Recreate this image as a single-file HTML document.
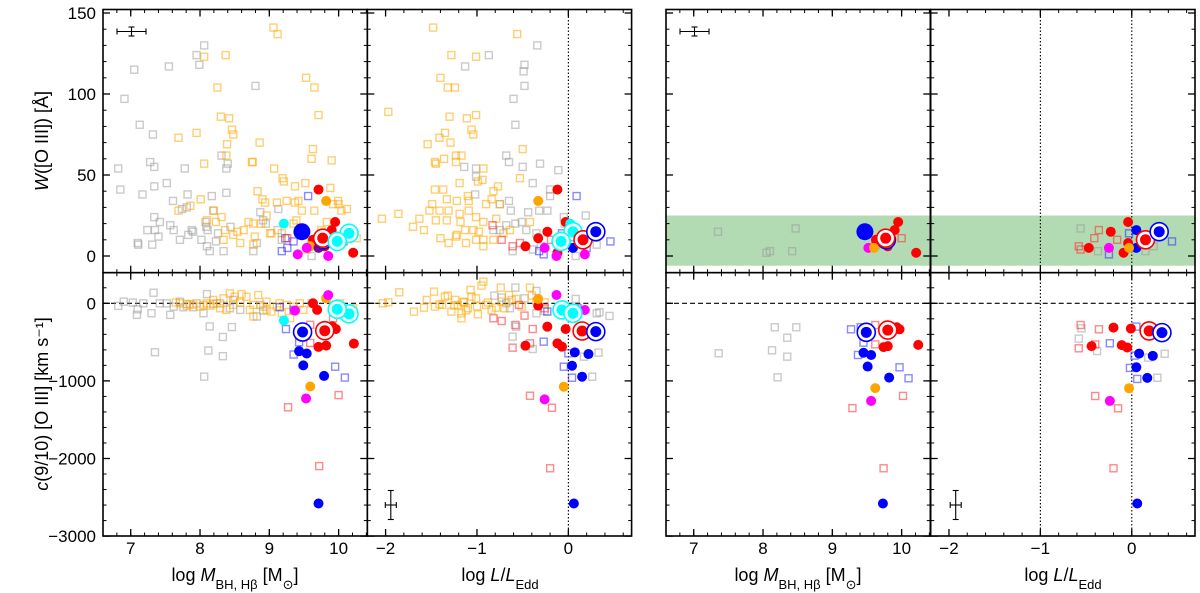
<!DOCTYPE html>
<html><head><meta charset="utf-8"><style>
html,body{margin:0;padding:0;background:#fff;}
svg{display:block;font-family:"Liberation Sans","DejaVu Sans",sans-serif;}
</style></head><body>
<svg id="chart" width="1200" height="593" viewBox="0 0 1200 593" xmlns="http://www.w3.org/2000/svg">
<g id="bands"></g>
<g id="guides"></g>
<g id="marks"></g>
<g id="axes"></g>
<g id="labels">
<text transform="translate(48,141) rotate(-90)" text-anchor="middle" font-size="18"><tspan font-style="italic">W</tspan>([O III]) [Å]</text>
<text transform="translate(48,404) rotate(-90)" text-anchor="middle" font-size="18"><tspan font-style="italic">c</tspan>(9/10) [O III] [km s⁻¹]</text>
<text x="235" y="581" text-anchor="middle" font-size="18">log <tspan font-style="italic">M</tspan><tspan font-size="13" baseline-shift="sub">BH, Hβ</tspan> [M<tspan font-size="13" baseline-shift="sub">⊙</tspan>]</text>
<text x="500" y="581" text-anchor="middle" font-size="18">log <tspan font-style="italic">L</tspan>/<tspan font-style="italic">L</tspan><tspan font-size="13" baseline-shift="sub">Edd</tspan></text>
<text x="798" y="581" text-anchor="middle" font-size="18">log <tspan font-style="italic">M</tspan><tspan font-size="13" baseline-shift="sub">BH, Hβ</tspan> [M<tspan font-size="13" baseline-shift="sub">⊙</tspan>]</text>
<text x="1063" y="581" text-anchor="middle" font-size="18">log <tspan font-style="italic">L</tspan>/<tspan font-style="italic">L</tspan><tspan font-size="13" baseline-shift="sub">Edd</tspan></text>
</g>
</svg>
<script>
// ---- axis tick values ----
const massMajor = [7, 8, 9, 10];
const leddMajor = [-2, -1, 0];
const wMajor = [0, 50, 100, 150];
const cMajor = [0, -1000, -2000, -3000];
const cTickLabels = ["0", "−1000", "−2000", "−3000"];
const leddTickLabels = ["−2", "−1", "0"];

// ---- panel 1 top: mass vs W ----
const grayM1 = [6.82,6.85,6.91,7.05,7.13,7.17,7.10,7.11,7.24,7.28,7.32,7.34,7.34,7.31,7.34,7.35,7.40,7.42,7.52,7.55,7.57,7.62,7.61,7.71,7.74,7.78,7.81,7.82,7.83,7.88,7.90,7.95,7.99,8.02,8.06,8.08,8.10,8.09,8.11,8.14,8.17,8.19,8.23,8.26,8.31,8.34,8.38,8.38,8.40,8.44,8.77,8.80,8.82,8.87,8.91,8.95,9.13,9.12,9.18,9.61];
const grayW1 = [54,41,97,115,81,38,8,7,16,58,75,55,43,7,24,16,12,21,45,117,19,16,34,10,29,54,30,38,13,16,15,124,118,10,130,21,6,18,16,3,37,28,9,14,62,3,39,54,57,18,3,105,8,27,22,20,29,16,10,0];
const orangeM1 = [8.06,8.37,9.06,9.12,9.53,9.65,8.25,8.30,8.42,8.46,8.48,7.69,7.95,8.39,8.38,8.86,9.71,9.63,9.61,9.90,8.06,8.76,8.75,9.07,9.19,9.21,9.37,9.52,8.01,7.86,7.69,8.20,8.31,8.10,8.83,8.90,8.94,9.11,9.25,9.37,9.42,9.47,9.65,9.99,10.0,10.04,10.12,9.92,9.88,8.70,8.77,8.88,8.96,9.01,9.03,8.63,8.54,8.48,8.36,8.34,8.58,8.77,8.79,9.18,9.35,9.39,9.60,9.75,9.83,10.26,9.54,8.23];
const orangeW1 = [123,124,141,137,110,104,104,86,85,78,75,73,76,69,62,70,87,66,60,59,57,58,58,54,48,46,43,45,35,31,28,28,24,22,40,35,33,33,34,33,34,28,28,34,32,28,29,32,42,21,20,20,25,14,14,16,15,13,16,10,8,7,12,14,20,22,10,16,21,11,4,21];
const blueSqM1 = [9.56,9.23,9.18,9.26,9.35,9.99,10.07];
const blueSqW1 = [37,11,3,5,9,10,9];
const redSqM1 = [9.26,9.88];
const redSqW1 = [11,12];
const redM1 = [9.71,9.95,9.90,9.75,9.63,9.80,10.21,9.83];
const redW1 = [41,21,16,11,10,6,2,10];
const orangeFM1 = [9.82,9.59];
const orangeFW1 = [34,6];
const magM1 = [9.54,9.41,9.85];
const magW1 = [5,1,0];
const purpleM1 = [9.71];
const purpleW1 = [5];
const cyanM1 = [9.21];
const cyanW1 = [20];
const cyanRingM1 = [10.15,9.98];
const cyanRingW1 = [14,9];
const blueBigM1 = [9.47];
const blueBigW1 = [15];
const blueRingM1 = [9.78];
const blueRingW1 = [10];
const redRingM1 = [9.77];
const redRingW1 = [11];

// ---- panel 1 bottom: mass vs c ----
const grayM1b = [6.82,6.90,7.03,7.09,7.10,7.18,7.30,7.33,7.35,7.42,7.52,7.57,7.62,7.71,7.76,7.81,7.90,7.95,8.05,8.10,8.14,8.12,8.19,8.29,8.33,8.33,8.06,8.46,8.48,8.58,8.87,8.82,8.91,9.61,8.43];
const grayC1b = [-34,21,9,-149,-77,0,-128,136,-630,0,0,-149,-43,21,-51,-9,-51,0,-128,119,-298,-609,-9,0,-434,-681,-945,-306,43,-85,-21,-170,-94,0,-64];
const orangeM1b = [7.71,7.81,7.90,8.00,8.10,8.19,8.29,8.38,8.48,8.43,8.50,8.58,8.60,8.67,8.72,8.77,8.84,8.91,8.96,9.03,9.11,9.18,9.25,9.30,9.35,9.44,9.49,9.92,10.02,10.21,8.77,8.96,9.15,8.24,8.34,8.05,7.65,7.85,8.15];
const orangeC1b = [0,-34,-21,-43,0,43,-64,-85,-21,128,85,9,119,85,-85,-21,106,-43,-85,-106,-43,-128,-21,-191,-43,0,-85,-21,0,-64,-170,21,0,0,64,-21,10,-10,-30];
const blueSqM1b = [9.15,9.24,9.35,9.43,9.95,10.09,9.35];
const blueSqC1b = [-51,-332,-660,-502,-817,-957,-85];
const redSqM1b = [9.27,9.59,9.59,9.72,10.0,9.92];
const redSqC1b = [-1340,-511,-277,-2098,-1183,-191];
const blueM1b = [9.43,9.54,9.49,9.79,9.71];
const blueC1b = [-617,-647,-800,-936,-2580];
const blueRingM1b = [9.48];
const blueRingC1b = [-370];
const redM1b = [9.71,9.82,9.91,9.96,10.22,9.63,9.69];
const redC1b = [-562,-545,-298,-332,-519,0,-85];
const redRingM1b = [9.80];
const redRingC1b = [-353];
const orangeFM1b = [9.59,9.82];
const orangeFC1b = [-1072,64];
const magM1b = [9.53,9.85,9.37];
const magC1b = [-1226,106,-94];
const cyanM1b = [9.21];
const cyanC1b = [-221];
const cyanRingM1b = [10.15,9.98];
const cyanRingC1b = [-136,-77];

// ---- panel 2 top: L/Ledd vs W ----
const grayL2 = [-0.34,-0.87,-1.13,-0.48,-0.49,-0.48,-0.60,-0.58,-0.68,-0.65,-1.14,-1.01,-1.01,-1.02,-0.50,-0.31,-0.11,-0.39,-0.20,-0.20,-0.65,-0.75,-0.63,-0.32,-0.23,-0.44,-0.51,-0.58,-0.68,-0.75,-0.82,-0.61,-0.39,-0.30,-0.05,-0.04,0.19,0.08,0.31,-0.35,-0.46];
const grayW2 = [130,124,117,118,114,105,97,81,62,58,55,54,49,38,55,57,53,45,41,37,34,32,28,28,28,27,21,20,19,16,16,3,4,6,24,20,25,0,7,14,16];
const orangeL2 = [-1.48,-0.56,-1.28,-1.01,-1.40,-1.32,-1.24,-1.97,-1.30,-1.11,-1.01,-1.06,-1.04,-1.41,-1.35,-1.29,-1.54,-0.50,-1.23,-1.17,-1.36,-1.46,-1.45,-1.23,-0.93,-0.99,-0.94,-1.19,-0.77,-0.82,-1.46,-1.37,-1.10,-1.33,-1.22,-1.09,-0.84,-0.75,-0.53,-1.49,-1.41,-1.31,-1.19,-1.09,-0.90,-1.86,-2.04,-1.70,-1.58,-1.45,-1.33,-1.18,-1.01,-0.93,-0.79,-1.04,-0.98,-1.13,-1.23,-1.40,-1.31,-1.22,-1.12,-1.01,-0.93,-0.93,-0.82,-0.71,-0.64,-0.42,-1.63,-1.52];
const orangeW2 = [141,137,124,123,110,104,104,89,86,85,87,78,75,73,76,70,69,66,62,62,60,58,57,58,54,46,47,45,43,40,41,41,37,35,34,34,35,32,48,32,28,28,26,28,32,26,23,18,16,22,22,21,24,21,23,16,15,16,12,11,8,13,8,10,10,6,10,14,16,21,23,28];
const redSqL2 = [-0.83,-0.73,-0.61,-0.53,-0.19];
const redSqW2 = [19,10,6,8,10];
const blueSqL2 = [0.09,-0.07,0.46,-0.32,-0.27,0.20];
const blueSqW2 = [37,14,9,3,1,5];
const redL2 = [-0.12,-0.03,-0.23,-0.33,-0.47,-0.12];
const redW2 = [41,21,15,11,6,2];
const redRingL2 = [0.16];
const redRingW2 = [10];
const orangeFL2 = [-0.33,-0.07];
const orangeFW2 = [34,6];
const magL2 = [-0.26,-0.13,0.18];
const magW2 = [5,0,1];
const blueL2 = [0.05,0.04];
const blueW2 = [5,16];
const blueRingL2 = [0.30];
const blueRingW2 = [15];
const cyanL2 = [0.02];
const cyanW2 = [20];
const cyanRingL2 = [0.05,-0.08];
const cyanRingW2 = [15,9];

// ---- panel 2 bottom: L/Ledd vs c ----
const orangeL2b = [-2.03,-1.97,-1.85,-1.69,-1.58,-1.55,-1.47,-1.46,-1.41,-1.35,-1.32,-1.28,-1.24,-1.21,-1.17,-1.17,-1.14,-1.10,-1.07,-1.06,-1.01,-0.99,-0.95,-0.93,-0.90,-0.84,-0.79,-0.74,-0.73,-0.70,-0.65,-0.62,-0.57,-0.51,-0.42,-0.40,-0.35,-0.26,-1.25,-1.15,-1.00,-0.88,-1.38,-1.12];
const orangeC2b = [0,13,142,-107,-56,43,150,-43,-13,86,99,-107,43,-21,-193,-129,13,-64,172,86,64,-142,228,280,-21,-86,-56,202,21,-64,107,43,56,-43,202,99,30,13,-30,20,-40,10,-20,-90];
const grayL2b = [-0.81,-0.73,-0.64,-0.58,-0.57,-0.61,-0.48,-0.39,-0.35,-0.35,-0.26,0.08,0.31,0.34,0.45,0.33,0.26,0.17,-0.68];
const grayC2b = [99,73,-64,202,-301,-430,64,-589,159,-129,-99,56,-129,-116,-163,-636,-946,-688,0];
const redSqL2b = [-0.82,-0.73,-0.58,-0.48,-0.39,-0.61,-0.42,-0.42,-0.18,-0.54,-0.26,-0.20];
const redSqC2b = [-193,-228,-280,-159,-331,-572,-516,-1191,-1346,-21,-64,-2126];
const blueSqL2b = [-0.27,-0.23,-0.08,0.00,-0.05,0.04,0.10];
const blueSqC2b = [-494,-107,-64,-645,-817,-959,-64];
const redL2b = [-0.33,-0.23,-0.03,-0.47,-0.12,-0.07];
const redC2b = [-30,-301,-331,-546,-516,-559];
const redRingL2b = [0.15];
const redRingC2b = [-357];
const blueL2b = [0.07,0.22,0.04,0.15,0.06];
const blueC2b = [-632,-654,-804,-946,-2580];
const blueRingL2b = [0.30];
const blueRingC2b = [-365];
const orangeFL2b = [-0.33,-0.05];
const orangeFC2b = [56,-1075];
const magL2b = [-0.13,-0.26,0.18];
const magC2b = [107,-1238,-86];
const cyanL2b = [0.05];
const cyanC2b = [-140];
const cyanRingL2b = [-0.07,0.05];
const cyanRingC2b = [-86,-129];

// ---- panel 3 top: mass vs W (subset) ----
const grayM3 = [7.35,8.10,8.05,8.42,8.47];
const grayW3 = [15,3,2,3,17];
const redSqM3 = [10.0,9.62];
const redSqW3 = [11,7];
const redM3 = [9.95,9.90,10.21,9.80,9.75,9.63];
const redW3 = [21,16,2,6,11,10];
const redRingM3 = [9.77];
const redRingW3 = [11];
const blueBigM3 = [9.47];
const blueBigW3 = [15];
const blueRingM3 = [9.78];
const blueRingW3 = [10];
const magM3 = [9.52];
const magW3 = [5];
const orangeFM3 = [9.60];
const orangeFW3 = [5];

// ---- panel 3 bottom ----
const grayM3b = [7.36,8.17,8.48,8.35,8.13,8.35,8.21];
const grayC3b = [-644,-309,-309,-443,-606,-688,-954];
const blueSqM3b = [9.27,9.41,9.45,9.37,9.97,10.10];
const blueSqC3b = [-335,-309,-507,-666,-825,-966];
const redSqM3b = [9.62,9.62,9.29,10.02,9.74];
const redSqC3b = [-280,-529,-1351,-1193,-2126];
const redM3b = [9.93,9.97,9.74,9.80,10.24];
const redC3b = [-309,-335,-565,-552,-536];
const redRingM3b = [9.80];
const redRingC3b = [-345];
const blueRingM3b = [9.49];
const blueRingC3b = [-374];
const blueM3b = [9.45,9.56,9.51,9.82,9.73];
const blueC3b = [-637,-666,-815,-957,-2580];
const orangeFM3b = [9.62];
const orangeFC3b = [-1093];
const magM3b = [9.56];
const magC3b = [-1258];

// ---- panel 4 top ----
const grayL4 = [-0.56,-0.37,0.15,0.24];
const grayW4 = [17,3,3,6];
const redSqL4 = [-0.36,-0.41,-0.58,-0.56,-0.16];
const redSqW4 = [16,11,6,4,10];
const blueSqL4 = [-0.03,0.44,-0.25];
const blueSqW4 = [14,9,1];
const redL4 = [-0.04,-0.23,-0.47,-0.09,-0.04];
const redW4 = [21,15,5,2,8];
const redRingL4 = [0.15];
const redRingW4 = [10];
const blueL4 = [0.05,0.05];
const blueW4 = [16,5];
const blueRingL4 = [0.30];
const blueRingW4 = [15];
const magL4 = [-0.25];
const magW4 = [5];
const orangeFL4 = [-0.03];
const orangeFW4 = [5];

// ---- panel 4 bottom ----
const grayL4b = [-0.58,-0.38,0.36,0.28,0.18,-0.55];
const grayC4b = [-455,-615,-650,-960,-700,-323];
const redSqL4b = [-0.56,-0.36,-0.58,-0.40,-0.40,-0.15,-0.20];
const redSqC4b = [-280,-335,-580,-530,-1195,-1353,-2126];
const blueSqL4b = [0.05,-0.24,0.03,-0.02,0.06];
const blueSqC4b = [-300,-515,-674,-833,-975];
const redL4b = [-0.20,-0.01,-0.44,-0.11,-0.05];
const redC4b = [-313,-326,-552,-539,-569];
const redRingL4b = [0.19];
const redRingC4b = [-356];
const blueRingL4b = [0.33];
const blueRingC4b = [-378];
const blueL4b = [0.08,0.23,0.05,0.17,0.06];
const blueC4b = [-648,-677,-824,-961,-2580];
const orangeFL4b = [-0.03];
const orangeFC4b = [-1094];
const magL4b = [-0.24];
const magC4b = [-1258];

// ---------- drawing ----------
const NS = "http://www.w3.org/2000/svg";
const TOP = 9.5, MID = 272.7, BOT = 536;
const cols = [
  {left:103, right:367.3, kind:"M"},
  {left:367.3, right:631.6, kind:"L"},
  {left:666, right:930.3, kind:"M"},
  {left:930.7, right:1195, kind:"L"}
];
function xM(col, v){ return col.left + (v - 6.6) * 69.3; }
function xL(col, v){ return col.left + (v + 2.2) * 91.4; }
function xS(col, v){ return col.kind === "M" ? xM(col, v) : xL(col, v); }
function yW(v){ return 256 - v * 1.62; }
function yC(v){ return 303.3 - v * 0.0776; }
function mk(tag, attrs, parent){
  const e = document.createElementNS(NS, tag);
  for (const k in attrs) e.setAttribute(k, attrs[k]);
  parent.appendChild(e);
  return e;
}
const marks = document.getElementById("marks");
const axes = document.getElementById("axes");
const guides = document.getElementById("guides");
const bands = document.getElementById("bands");

const defs = mk("defs", {}, document.getElementById("chart"));
cols.forEach((c, i) => {
  [[TOP, MID], [MID, BOT]].forEach((r, j) => {
    const cp = mk("clipPath", {id: "cp" + i + j}, defs);
    mk("rect", {x: c.left, y: r[0], width: c.right - c.left, height: r[1] - r[0]}, cp);
  });
});

const STY = {
  gray:   {shape:"sq", color:"rgba(150,150,150,0.5)"},
  orange: {shape:"sq", color:"rgba(255,165,0,0.55)"},
  blueSq: {shape:"sq", color:"rgba(40,40,255,0.55)"},
  redSq:  {shape:"sq", color:"rgba(255,40,40,0.55)"},
  red:    {shape:"dot", color:"#ff0000", r:5},
  blue:   {shape:"dot", color:"#0000ff", r:5},
  blueBig:{shape:"dot", color:"#0000ff", r:8.5},
  orangeF:{shape:"dot", color:"#ffa500", r:5},
  mag:    {shape:"dot", color:"#ff00ff", r:5},
  purple: {shape:"dot", color:"#7a00a0", r:5},
  cyan:   {shape:"dot", color:"#00ffff", r:5},
  redRing:{shape:"ring", color:"#ff0000"},
  blueRing:{shape:"ring", color:"#0000ff"},
  cyanRing:{shape:"ring", color:"#00ffff"}
};

function plot(ci, row, styleKey, xs, ys, name){
  const col = cols[ci];
  const st = STY[styleKey];
  const g = mk("g", {"clip-path": "url(#cp" + ci + row + ")"}, marks);
  
  
  for (let i = 0; i < xs.length; i++){
    const px = xS(col, xs[i]);
    const py = row === 0 ? yW(ys[i]) : yC(ys[i]);
    let el;
    if (st.shape === "sq"){
      el = mk("rect", {x: px - 3.5, y: py - 3.5, width: 7, height: 7, fill: "none", stroke: st.color, "stroke-width": 1.4}, g);
    } else if (st.shape === "dot"){
      el = mk("circle", {cx: px, cy: py, r: st.r, fill: st.color}, g);
    } else {
      el = mk("g", {}, g);
      mk("circle", {cx: px, cy: py, r: 9, fill: "#fff", stroke: st.color, "stroke-width": 1.6}, el);
      mk("circle", {cx: px, cy: py, r: 5.5, fill: st.color}, el);
    }
    
    
  }
}

[2, 3].forEach(ci => {
  const c = cols[ci];
  const b = mk("rect", {x: c.left, y: yW(25), width: c.right - c.left, height: yW(-6) - yW(25), fill: "#b3dbb3"}, bands);
  
  
});

[0,1,2,3].forEach(ci => {
  const c = cols[ci];
  const d = mk("line", {x1: c.left, x2: c.right, y1: yC(0), y2: yC(0), stroke: "#000", "stroke-width": 1.2, "stroke-dasharray": "5,3"}, guides);
  
  
});
[[1,0],[3,0],[3,-1]].forEach(p => {
  const c = cols[p[0]];
  const x = xL(c, p[1]);
  const d = mk("line", {x1: x, x2: x, y1: TOP, y2: BOT, stroke: "#000", "stroke-width": 1.1, "stroke-dasharray": "1.5,2"}, guides);
  
  
});

plot(0,0,"gray",grayM1,grayW1,"gray-squares");
plot(0,0,"orange",orangeM1,orangeW1,"orange-squares");
plot(0,0,"blueSq",blueSqM1,blueSqW1,"blue-squares");
plot(0,0,"redSq",redSqM1,redSqW1,"red-squares");
plot(0,0,"cyan",cyanM1,cyanW1,"cyan-dots");
plot(0,0,"blueBig",blueBigM1,blueBigW1,"blue-big-dot");
plot(0,0,"red",redM1,redW1,"red-dots");
plot(0,0,"orangeF",orangeFM1,orangeFW1,"orange-dots");
plot(0,0,"mag",magM1,magW1,"magenta-dots");
plot(0,0,"purple",purpleM1,purpleW1,"purple-dots");
plot(0,0,"blueRing",blueRingM1,blueRingW1,"blue-ringed");
plot(0,0,"redRing",redRingM1,redRingW1,"red-ringed");
plot(0,0,"cyanRing",cyanRingM1,cyanRingW1,"cyan-ringed");

plot(0,1,"gray",grayM1b,grayC1b,"gray-squares");
plot(0,1,"orange",orangeM1b,orangeC1b,"orange-squares");
plot(0,1,"blueSq",blueSqM1b,blueSqC1b,"blue-squares");
plot(0,1,"redSq",redSqM1b,redSqC1b,"red-squares");
plot(0,1,"cyan",cyanM1b,cyanC1b,"cyan-dots");
plot(0,1,"blue",blueM1b,blueC1b,"blue-dots");
plot(0,1,"red",redM1b,redC1b,"red-dots");
plot(0,1,"orangeF",orangeFM1b,orangeFC1b,"orange-dots");
plot(0,1,"mag",magM1b,magC1b,"magenta-dots");
plot(0,1,"blueRing",blueRingM1b,blueRingC1b,"blue-ringed");
plot(0,1,"redRing",redRingM1b,redRingC1b,"red-ringed");
plot(0,1,"cyanRing",cyanRingM1b,cyanRingC1b,"cyan-ringed");

plot(1,0,"gray",grayL2,grayW2,"gray-squares");
plot(1,0,"orange",orangeL2,orangeW2,"orange-squares");
plot(1,0,"blueSq",blueSqL2,blueSqW2,"blue-squares");
plot(1,0,"redSq",redSqL2,redSqW2,"red-squares");
plot(1,0,"red",redL2,redW2,"red-dots");
plot(1,0,"orangeF",orangeFL2,orangeFW2,"orange-dots");
plot(1,0,"mag",magL2,magW2,"magenta-dots");
plot(1,0,"cyan",cyanL2,cyanW2,"cyan-dots");
plot(1,0,"blue",blueL2,blueW2,"blue-dots");
plot(1,0,"cyanRing",cyanRingL2,cyanRingW2,"cyan-ringed");
plot(1,0,"redRing",redRingL2,redRingW2,"red-ringed");
plot(1,0,"blueRing",blueRingL2,blueRingW2,"blue-ringed");

plot(1,1,"gray",grayL2b,grayC2b,"gray-squares");
plot(1,1,"orange",orangeL2b,orangeC2b,"orange-squares");
plot(1,1,"blueSq",blueSqL2b,blueSqC2b,"blue-squares");
plot(1,1,"redSq",redSqL2b,redSqC2b,"red-squares");
plot(1,1,"red",redL2b,redC2b,"red-dots");
plot(1,1,"blue",blueL2b,blueC2b,"blue-dots");
plot(1,1,"orangeF",orangeFL2b,orangeFC2b,"orange-dots");
plot(1,1,"mag",magL2b,magC2b,"magenta-dots");
plot(1,1,"cyan",cyanL2b,cyanC2b,"cyan-dots");
plot(1,1,"cyanRing",cyanRingL2b,cyanRingC2b,"cyan-ringed");
plot(1,1,"redRing",redRingL2b,redRingC2b,"red-ringed");
plot(1,1,"blueRing",blueRingL2b,blueRingC2b,"blue-ringed");

plot(2,0,"gray",grayM3,grayW3,"gray-squares");
plot(2,0,"redSq",redSqM3,redSqW3,"red-squares");
plot(2,0,"blueBig",blueBigM3,blueBigW3,"blue-big-dot");
plot(2,0,"red",redM3,redW3,"red-dots");
plot(2,0,"mag",magM3,magW3,"magenta-dots");
plot(2,0,"orangeF",orangeFM3,orangeFW3,"orange-dots");
plot(2,0,"blueRing",blueRingM3,blueRingW3,"blue-ringed");
plot(2,0,"redRing",redRingM3,redRingW3,"red-ringed");

plot(2,1,"gray",grayM3b,grayC3b,"gray-squares");
plot(2,1,"blueSq",blueSqM3b,blueSqC3b,"blue-squares");
plot(2,1,"redSq",redSqM3b,redSqC3b,"red-squares");
plot(2,1,"red",redM3b,redC3b,"red-dots");
plot(2,1,"blue",blueM3b,blueC3b,"blue-dots");
plot(2,1,"orangeF",orangeFM3b,orangeFC3b,"orange-dots");
plot(2,1,"mag",magM3b,magC3b,"magenta-dots");
plot(2,1,"blueRing",blueRingM3b,blueRingC3b,"blue-ringed");
plot(2,1,"redRing",redRingM3b,redRingC3b,"red-ringed");

plot(3,0,"gray",grayL4,grayW4,"gray-squares");
plot(3,0,"redSq",redSqL4,redSqW4,"red-squares");
plot(3,0,"blueSq",blueSqL4,blueSqW4,"blue-squares");
plot(3,0,"red",redL4,redW4,"red-dots");
plot(3,0,"blue",blueL4,blueW4,"blue-dots");
plot(3,0,"mag",magL4,magW4,"magenta-dots");
plot(3,0,"orangeF",orangeFL4,orangeFW4,"orange-dots");
plot(3,0,"redRing",redRingL4,redRingW4,"red-ringed");
plot(3,0,"blueRing",blueRingL4,blueRingW4,"blue-ringed");

plot(3,1,"gray",grayL4b,grayC4b,"gray-squares");
plot(3,1,"redSq",redSqL4b,redSqC4b,"red-squares");
plot(3,1,"blueSq",blueSqL4b,blueSqC4b,"blue-squares");
plot(3,1,"red",redL4b,redC4b,"red-dots");
plot(3,1,"blue",blueL4b,blueC4b,"blue-dots");
plot(3,1,"orangeF",orangeFL4b,orangeFC4b,"orange-dots");
plot(3,1,"mag",magL4b,magC4b,"magenta-dots");
plot(3,1,"redRing",redRingL4b,redRingC4b,"red-ringed");
plot(3,1,"blueRing",blueRingL4b,blueRingC4b,"blue-ringed");

function errBar(cx, cy, hw, hh, name){
  const g = mk("g", {stroke: "#000", "stroke-width": 1.1}, marks);
  
  
  mk("line", {x1: cx - hw, x2: cx + hw, y1: cy, y2: cy}, g);
  mk("line", {x1: cx, x2: cx, y1: cy - hh, y2: cy + hh}, g);
  mk("line", {x1: cx - hw, x2: cx - hw, y1: cy - 3, y2: cy + 3}, g);
  mk("line", {x1: cx + hw, x2: cx + hw, y1: cy - 3, y2: cy + 3}, g);
  mk("line", {x1: cx - 3, x2: cx + 3, y1: cy - hh, y2: cy - hh}, g);
  mk("line", {x1: cx - 3, x2: cx + 3, y1: cy + hh, y2: cy + hh}, g);
}
errBar(cols[0].left + 28.5, 31.5, 14.5, 4.5, "error-bar-top-left");
errBar(cols[2].left + 28.5, 31.5, 14.5, 4.5, "error-bar-top-right");
errBar(cols[1].left + 23.5, 505, 5.5, 14.5, "error-bar-bottom-left");
errBar(cols[3].left + 25, 505, 5.5, 14.5, "error-bar-bottom-right");

function range(a, b, s){ const r = []; for (let v = a; v <= b + 1e-9; v += s) r.push(+v.toFixed(3)); return r; }
const massMinor = range(6.6, 10.4, 0.2);
const leddMinor = range(-2.2, 0.6, 0.2);
const wMinor = range(-10, 150, 10);
const cMinor = range(-3000, 400, 200);

cols.forEach((c, ci) => {
  [[TOP, MID, 0], [MID, BOT, 1]].forEach(r => {
    const g = mk("g", {stroke: "#000"}, axes);
    
    
    mk("rect", {x: c.left, y: r[0], width: c.right - c.left, height: r[1] - r[0], fill: "none", "stroke-width": 1.6}, g);
    const xmaj = c.kind === "M" ? massMajor : leddMajor;
    const xmin = c.kind === "M" ? massMinor : leddMinor;
    xmin.forEach(v => {
      const x = xS(c, v);
      if (x <= c.left + 0.5 || x >= c.right - 0.5) return;
      mk("line", {x1: x, x2: x, y1: r[0], y2: r[0] + 3.5, "stroke-width": 1}, g);
      mk("line", {x1: x, x2: x, y1: r[1], y2: r[1] - 3.5, "stroke-width": 1}, g);
    });
    xmaj.forEach(v => {
      const x = xS(c, v);
      mk("line", {x1: x, x2: x, y1: r[0], y2: r[0] + 7, "stroke-width": 1.3}, g);
      mk("line", {x1: x, x2: x, y1: r[1], y2: r[1] - 7, "stroke-width": 1.3}, g);
    });
    const ymaj = r[2] === 0 ? wMajor : cMajor;
    const ymin = r[2] === 0 ? wMinor : cMinor;
    const yf = r[2] === 0 ? yW : yC;
    ymin.forEach(v => {
      const y = yf(v);
      if (y <= r[0] + 0.5 || y >= r[1] - 0.5) return;
      mk("line", {x1: c.left, x2: c.left + 3.5, y1: y, y2: y, "stroke-width": 1}, g);
      mk("line", {x1: c.right, x2: c.right - 3.5, y1: y, y2: y, "stroke-width": 1}, g);
    });
    ymaj.forEach(v => {
      const y = yf(v);
      if (y < r[0] - 0.5 || y > r[1] + 0.5) return;
      mk("line", {x1: c.left, x2: c.left + 7, y1: y, y2: y, "stroke-width": 1.3}, g);
      mk("line", {x1: c.right, x2: c.right - 7, y1: y, y2: y, "stroke-width": 1.3}, g);
    });
  });
  const lab = mk("g", {"font-size": 17, "text-anchor": "middle"}, axes);
  
  
  const maj = c.kind === "M" ? massMajor : leddMajor;
  maj.forEach((v, i) => {
    const t = mk("text", {x: xS(c, v), y: 554}, lab);
    t.textContent = c.kind === "M" ? String(v) : leddTickLabels[i];
  });
});
const yl = mk("g", {"font-size": 17, "text-anchor": "end"}, axes);


wMajor.forEach(v => { const t = mk("text", {x: 96, y: yW(v) + 6}, yl); t.textContent = String(v); });
cMajor.forEach((v, i) => { const t = mk("text", {x: 96, y: yC(v) + 6}, yl); t.textContent = cTickLabels[i]; });
</script>
</body></html>
